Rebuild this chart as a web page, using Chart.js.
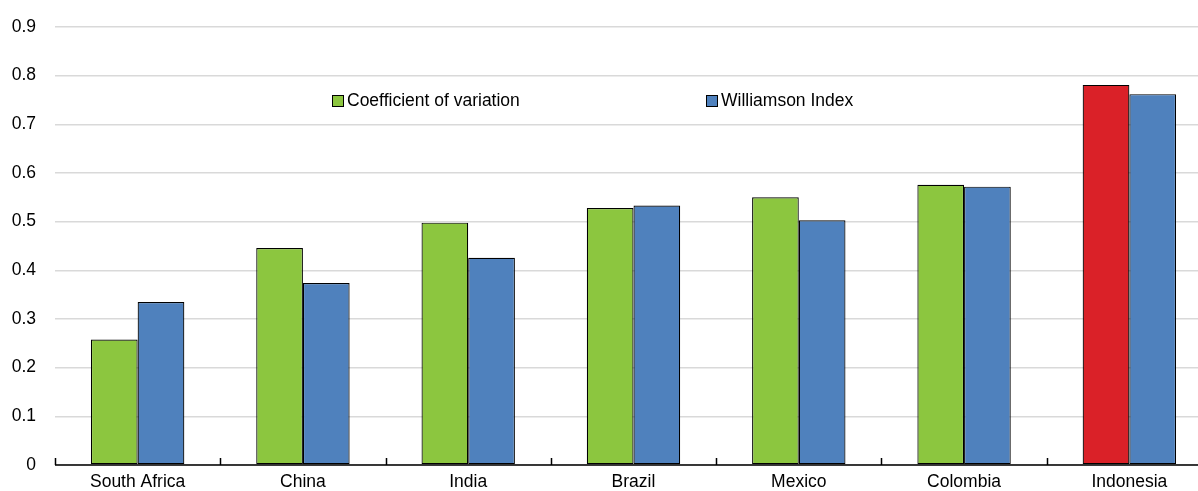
<!DOCTYPE html>
<html>
<head>
<meta charset="utf-8">
<script src="https://cdn.jsdelivr.net/npm/chart.js@4"></script>
<style>
  body { margin: 0; background: #fff; }
  #wrap { position: relative; width: 1198px; height: 491px; overflow: hidden; }
  #chart { display: block; }
  #legend { position: absolute; top: 90px; left: 0; font: 17.5px "Liberation Sans", Arial, sans-serif; color: #000; }
  #legend span { position: absolute; white-space: nowrap; }
  #legend i { display: inline-block; width: 10px; height: 10px; border: 1px solid #000; margin-right: 3px; vertical-align: -1px; }
</style>
</head>
<body>
<div id="wrap">
  <!-- canvas a bit wider than the frame: the last category is cut at the right edge like the original -->
  <canvas id="chart" width="1212" height="491"></canvas>
  <div id="legend">
    <span style="left:332px"><i style="background:#8CC63F"></i>Coefficient of variation</span>
    <span style="left:706px"><i style="background:#4F81BD"></i>Williamson Index</span>
  </div>
</div>
<script>
const categories = ['South Africa', 'China', 'India', 'Brazil', 'Mexico', 'Colombia', 'Indonesia'];
const coefVariation = [0.258, 0.446, 0.498, 0.528, 0.550, 0.576, 0.781];
const williamson = [0.335, 0.374, 0.426, 0.533, 0.503, 0.572, 0.762];
const yTicks = [0, 0.1, 0.2, 0.3, 0.4, 0.5, 0.6, 0.7, 0.8, 0.9];

const green = '#8CC63F';
const blue = '#4F81BD';
const red = '#DA2128';

Chart.defaults.font.family = '"Liberation Sans", Arial, sans-serif';
Chart.defaults.font.size = 17.5;
Chart.defaults.color = '#000';

// small upward tick marks on the category axis, plus the axis line
const catTicks = {
    id: 'catTicks',
    afterDraw(chart) {
        const x = chart.scales.x;
        const ctx = chart.ctx;
        const y0 = chart.chartArea.bottom;
        ctx.save();
        ctx.strokeStyle = '#000';
        ctx.lineWidth = 1.5;
        ctx.beginPath();
        for (let i = 0; i < categories.length; i++) {
            const px = Math.round(x.left + (x.right - x.left) * i / categories.length) + 0.5;
            ctx.moveTo(px, y0);
            ctx.lineTo(px, y0 - 7);
        }
        ctx.moveTo(x.left, y0);
        ctx.lineTo(x.right, y0);
        ctx.stroke();
        ctx.restore();
    }
};

new Chart(document.getElementById('chart'), {
    type: 'bar',
    data: {
        labels: categories,
        datasets: [
            {
                label: 'Coefficient of variation',
                data: coefVariation,
                backgroundColor: categories.map(c => c === 'Indonesia' ? red : green),
                borderColor: '#000',
                borderWidth: 1.2,
                borderSkipped: false
            },
            {
                label: 'Williamson Index',
                data: williamson,
                backgroundColor: blue,
                borderColor: '#000',
                borderWidth: 1.2,
                borderSkipped: false
            }
        ]
    },
    options: {
        responsive: false,
        animation: false,
        layout: { padding: { top: 27, right: 0, left: 0, bottom: 0 } },
        plugins: { legend: { display: false }, tooltip: { enabled: false } },
        datasets: { bar: { categoryPercentage: 0.565, barPercentage: 1 } },
        scales: {
            x: {
                afterFit: s => { s.height = 26; s.paddingLeft = 0; s.paddingRight = 0; },
                grid: { display: false, drawTicks: false },
                border: { display: false },
                ticks: { padding: 7, maxRotation: 0 }
            },
            y: {
                min: 0,
                max: 0.9,
                afterFit: s => { s.width = 55; s.paddingTop = 0; s.paddingBottom = 0; },
                afterBuildTicks: s => { s.ticks = yTicks.map(v => ({ value: v })); },
                grid: { color: '#d9d9d9', lineWidth: 1.5, drawTicks: false },
                border: { display: false },
                ticks: { padding: 19, callback: v => String(v) }
            }
        }
    },
    plugins: [catTicks]
});
</script>
</body>
</html>
